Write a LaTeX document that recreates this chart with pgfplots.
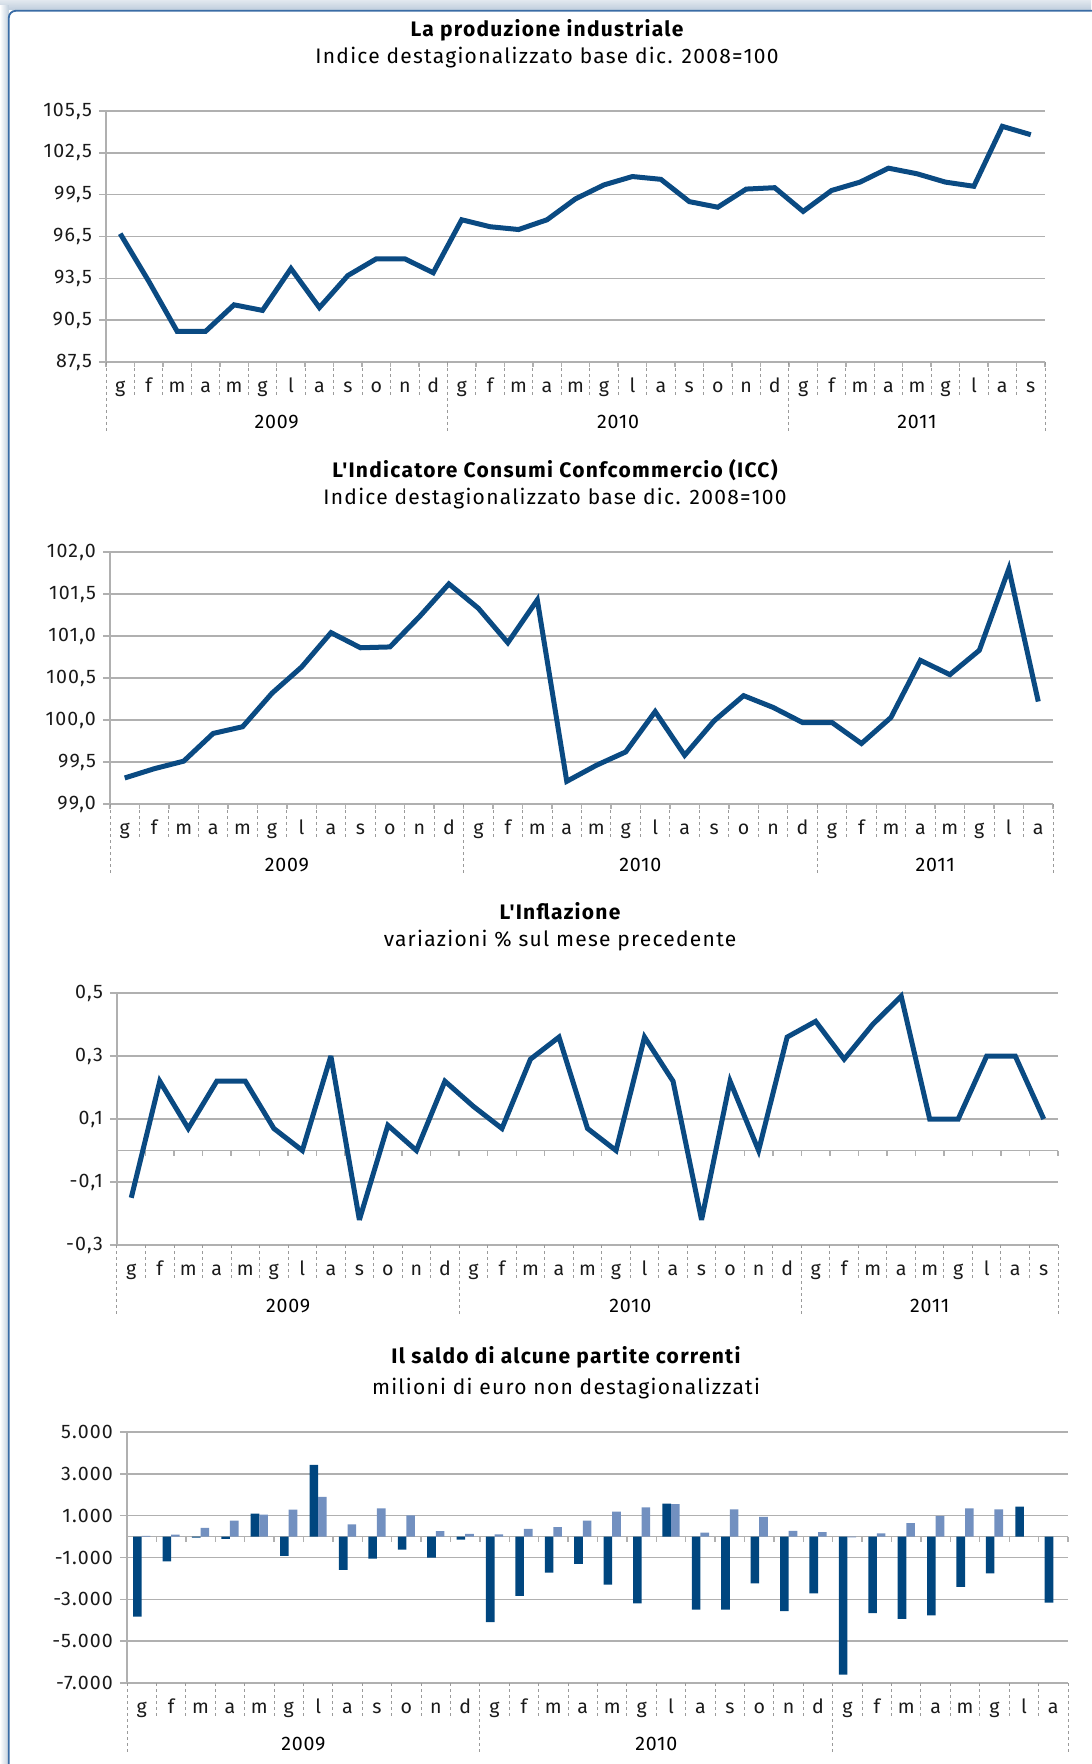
\documentclass[border=0pt]{standalone}
\usepackage{pgfplots}
\pgfplotsset{compat=1.18}
\usepackage{fontspec}
\setmainfont{Fira Sans}
\newfontfamily\fontetitolo{Fira Sans}[LetterSpace=6]
\newfontfamily\fontenumeri{Fira Sans}[LetterSpace=6]
\newfontfamily\fontemesi{Fira Sans}[LetterSpace=4]

\definecolor{linea}{HTML}{0A4A82}
\definecolor{scuro}{HTML}{00467F}
\definecolor{chiaro}{HTML}{7290C0}
\definecolor{griglia}{HTML}{B0B0B0}
\definecolor{sepa}{HTML}{9A9A9A}
\definecolor{cornice}{HTML}{3A6CA5}
\definecolor{ombraA}{HTML}{E2E8EF}
\definecolor{ombraB}{HTML}{BFCDDC}
\definecolor{testo}{HTML}{1A1A1A}

\newcommand{\titolo}{\fontetitolo\fontsize{10.5}{12}\selectfont\bfseries}
\newcommand{\sottotitolo}{\fontetitolo\fontsize{10.5}{12}\selectfont}
\newcommand{\numeri}{\fontenumeri\fontsize{9.8}{11}\selectfont}
\newcommand{\mesi}{\fontemesi\fontsize{9.8}{11}\selectfont}

\tikzset{
  serie/.style={linea, line width=2.5pt, line join=miter, miter limit=4},
  corto/.style={sepa, line width=0.5pt, dash pattern=on 1.5pt off 1.5pt},
  tacca/.style={griglia, line width=0.7pt},
}
\pgfplotsset{
  pannello/.style={
    scale only axis, clip=false, anchor=south west,
    xmin=-0.5,
    axis line style={draw=none},
    ymajorgrids, grid style={griglia, line width=0.7pt},
    tick align=outside, major tick length=3.5pt,
    xtick pos=bottom, ytick pos=left,
    xtick style={draw=none},
    ytick style={griglia, line width=0.7pt},
    xticklabel style={anchor=base, yshift=-11.9pt, font=\mesi, text=testo},
    yticklabel style={font=\numeri, text=testo},
  },
}

\begin{document}
\begin{tikzpicture}
\path[use as bounding box] (0pt,0pt) rectangle (545.5pt,-882pt);
% cornice della pagina
\shade[top color=ombraA, bottom color=ombraB] (0pt,0pt) rectangle (545.5pt,-5pt);
\shade[left color=white, right color=ombraB] (0pt,-3pt) rectangle (4.4pt,-882pt);
\draw[cornice, line width=0.9pt, rounded corners=3.5pt] (4.4pt,-890pt) -- (4.4pt,-5.4pt) -- (550pt,-5.4pt);

% ---------------- produzione industriale ----------------
\node[anchor=base, font=\titolo] at (273.5pt,-18.5pt) {La produzione industriale};
\node[anchor=base, font=\sottotitolo] at (273.5pt,-32pt) {Indice destagionalizzato base dic. 2008=100};
\begin{axis}[pannello, at={(53pt,-181pt)}, width=469.5pt, height=125.5pt,
  xmax=32.5, xtick={0,...,32},
  xticklabels={g,f,m,a,m,g,l,a,s,o,n,d,g,f,m,a,m,g,l,a,s,o,n,d,g,f,m,a,m,g,l,a,s},
  ymin=87.5, ymax=105.5, ytick={87.5,90.5,...,105.5},
  yticklabels={{87,5},{90,5},{93,5},{96,5},{99,5},{102,5},{105,5}}]
\draw[tacca] (rel axis cs:0,0) -- (rel axis cs:0,1);
\pgfplotsinvokeforeach{-0.5,0.5,...,32.5}{
  \draw[corto] (axis cs:#1,87.5) -- ++(0pt,-17pt);
  \draw[tacca] (axis cs:#1,87.5) -- ++(0pt,-2.5pt);
}
\pgfplotsinvokeforeach{-0.5,11.5,23.5,32.5}{
  \draw[corto] (axis cs:#1,87.5) -- ++(0pt,-35.5pt);
}
\node[anchor=base, yshift=-33.5pt, font=\mesi] at (axis cs:5.5,87.5) {2009};
\node[anchor=base, yshift=-33.5pt, font=\mesi] at (axis cs:17.5,87.5) {2010};
\node[anchor=base, yshift=-33.5pt, font=\mesi] at (axis cs:28,87.5) {2011};
\addplot[serie] coordinates {
  (0,96.7) (1,93.3) (2,89.7) (3,89.7) (4,91.6) (5,91.2) (6,94.2) (7,91.4)
  (8,93.7) (9,94.9) (10,94.9) (11,93.9)
  (12,97.7) (13,97.2) (14,97.0) (15,97.7) (16,99.2) (17,100.2) (18,100.8) (19,100.6)
  (20,99.0) (21,98.6) (22,99.9) (23,100.0)
  (24,98.3) (25,99.8) (26,100.4) (27,101.4) (28,101.0) (29,100.4) (30,100.1) (31,104.4)
  (32,103.8)};
\end{axis}

% ---------------- indicatore consumi ----------------
\node[anchor=base, font=\titolo] at (277.5pt,-239pt) {L'Indicatore Consumi Confcommercio (ICC)};
\node[anchor=base, font=\sottotitolo] at (277.5pt,-252.5pt) {Indice destagionalizzato base dic. 2008=100};
\begin{axis}[pannello, at={(55pt,-402pt)}, width=471.5pt, height=126pt,
  xmax=31.5, xtick={0,...,31},
  xticklabels={g,f,m,a,m,g,l,a,s,o,n,d,g,f,m,a,m,g,l,a,s,o,n,d,g,f,m,a,m,g,l,a},
  ymin=99, ymax=102, ytick={99,99.5,...,102},
  yticklabels={{99,0},{99,5},{100,0},{100,5},{101,0},{101,5},{102,0}}]
\draw[tacca] (rel axis cs:0,0) -- (rel axis cs:0,1);
\pgfplotsinvokeforeach{-0.5,0.5,...,31.5}{
  \draw[corto] (axis cs:#1,99) -- ++(0pt,-17pt);
  \draw[tacca] (axis cs:#1,99) -- ++(0pt,-2.5pt);
}
\pgfplotsinvokeforeach{-0.5,11.5,23.5,31.5}{
  \draw[corto] (axis cs:#1,99) -- ++(0pt,-35.5pt);
}
\node[anchor=base, yshift=-33.5pt, font=\mesi] at (axis cs:5.5,99) {2009};
\node[anchor=base, yshift=-33.5pt, font=\mesi] at (axis cs:17.5,99) {2010};
\node[anchor=base, yshift=-33.5pt, font=\mesi] at (axis cs:27.5,99) {2011};
\addplot[serie] coordinates {
  (0,99.31) (1,99.42) (2,99.51) (3,99.84) (4,99.92) (5,100.32) (6,100.63) (7,101.04)
  (8,100.86) (9,100.87) (10,101.23) (11,101.62)
  (12,101.33) (13,100.92) (14,101.43) (15,99.27) (16,99.46) (17,99.62) (18,100.10) (19,99.58)
  (20,99.99) (21,100.29) (22,100.15) (23,99.97)
  (24,99.97) (25,99.72) (26,100.03) (27,100.71) (28,100.54) (29,100.83) (30,101.80) (31,100.22)};
\end{axis}

% ---------------- inflazione ----------------
\node[anchor=base, font=\titolo] at (280pt,-459.5pt) {L'Inflazione};
\node[anchor=base, font=\sottotitolo] at (280pt,-473pt) {variazioni \% sul mese precedente};
\begin{axis}[pannello, at={(58.5pt,-622.5pt)}, width=470.5pt, height=126pt,
  xmax=32.5, xtick={0,...,32},
  xticklabels={g,f,m,a,m,g,l,a,s,o,n,d,g,f,m,a,m,g,l,a,s,o,n,d,g,f,m,a,m,g,l,a,s},
  ymin=-0.3, ymax=0.5, ytick={-0.3,-0.1,0.1,0.3,0.5},
  yticklabels={{-0,3},{-0,1},{0,1},{0,3},{0,5}}]
\draw[tacca] (rel axis cs:0,0) -- (rel axis cs:0,1);
\draw[tacca] (axis cs:-0.5,0) -- (axis cs:32.5,0);
\pgfplotsinvokeforeach{-0.5,0.5,...,32.5}{
  \draw[corto] (axis cs:#1,-0.3) -- ++(0pt,-17pt);
  \draw[tacca] (axis cs:#1,0) -- ++(0pt,-2.5pt);
}
\pgfplotsinvokeforeach{-0.5,11.5,23.5,32.5}{
  \draw[corto] (axis cs:#1,-0.3) -- ++(0pt,-35.5pt);
}
\node[anchor=base, yshift=-33.5pt, font=\mesi] at (axis cs:5.5,-0.3) {2009};
\node[anchor=base, yshift=-33.5pt, font=\mesi] at (axis cs:17.5,-0.3) {2010};
\node[anchor=base, yshift=-33.5pt, font=\mesi] at (axis cs:28,-0.3) {2011};
\addplot[serie] coordinates {
  (0,-0.15) (1,0.22) (2,0.07) (3,0.22) (4,0.22) (5,0.07) (6,0.0) (7,0.30)
  (8,-0.22) (9,0.08) (10,0.0) (11,0.22)
  (12,0.14) (13,0.07) (14,0.29) (15,0.36) (16,0.07) (17,0.0) (18,0.36) (19,0.22)
  (20,-0.22) (21,0.22) (22,0.0) (23,0.36)
  (24,0.41) (25,0.29) (26,0.40) (27,0.49) (28,0.10) (29,0.10) (30,0.30) (31,0.30)
  (32,0.10)};
\end{axis}

% ---------------- saldo partite correnti ----------------
\node[anchor=base, font=\titolo] at (283pt,-681.5pt) {Il saldo di alcune partite correnti};
\node[anchor=base, font=\sottotitolo] at (283pt,-697pt) {milioni di euro non destagionalizzati};
\begin{axis}[pannello, at={(63.5pt,-841.5pt)}, width=470.5pt, height=125.5pt,
  ybar=0pt, bar width=4.3pt,
  xmax=31.5, xtick={0,...,31},
  xticklabels={g,f,m,a,m,g,l,a,s,o,n,d,g,f,m,a,m,g,l,a,s,o,n,d,g,f,m,a,m,g,l,a},
  ymin=-7000, ymax=5000, ytick={-7000,-5000,...,5000},
  yticklabels={{-7.000},{-5.000},{-3.000},{-1.000},{1.000},{3.000},{5.000}}]
\draw[tacca] (rel axis cs:0,0) -- (rel axis cs:0,1);
\draw[tacca] (axis cs:-0.5,0) -- (axis cs:31.5,0);
\pgfplotsinvokeforeach{-0.5,0.5,...,31.5}{
  \draw[corto] (axis cs:#1,-7000) -- ++(0pt,-17pt);
  \draw[tacca] (axis cs:#1,0) -- ++(0pt,-2.5pt);
}
\pgfplotsinvokeforeach{-0.5,11.5,23.5,31.5}{
  \draw[corto] (axis cs:#1,-7000) -- ++(0pt,-35.5pt);
}
\node[anchor=base, yshift=-33.5pt, font=\mesi] at (axis cs:5.5,-7000) {2009};
\node[anchor=base, yshift=-33.5pt, font=\mesi] at (axis cs:17.5,-7000) {2010};
\addplot[fill=scuro, draw=none] coordinates {
  (0,-3830) (1,-1180) (2,-50) (3,-110) (4,1100) (5,-920) (6,3430) (7,-1590)
  (8,-1050) (9,-620) (10,-1000) (11,-140)
  (12,-4090) (13,-2830) (14,-1720) (15,-1300) (16,-2290) (17,-3190) (18,1580) (19,-3490)
  (20,-3490) (21,-2240) (22,-3560) (23,-2720)
  (24,-6600) (25,-3660) (26,-3930) (27,-3770) (28,-2400) (29,-1760) (30,1430) (31,-3160)};
\addplot[fill=chiaro, draw=none] coordinates {
  (0,30) (1,100) (2,420) (3,760) (4,1050) (5,1290) (6,1900) (7,590)
  (8,1350) (9,1020) (10,260) (11,130)
  (12,110) (13,370) (14,450) (15,760) (16,1190) (17,1400) (18,1550) (19,190)
  (20,1300) (21,940) (22,270) (23,210)
  (24,-40) (25,160) (26,640) (27,990) (28,1350) (29,1300)};
\end{axis}
\end{tikzpicture}
\end{document}
